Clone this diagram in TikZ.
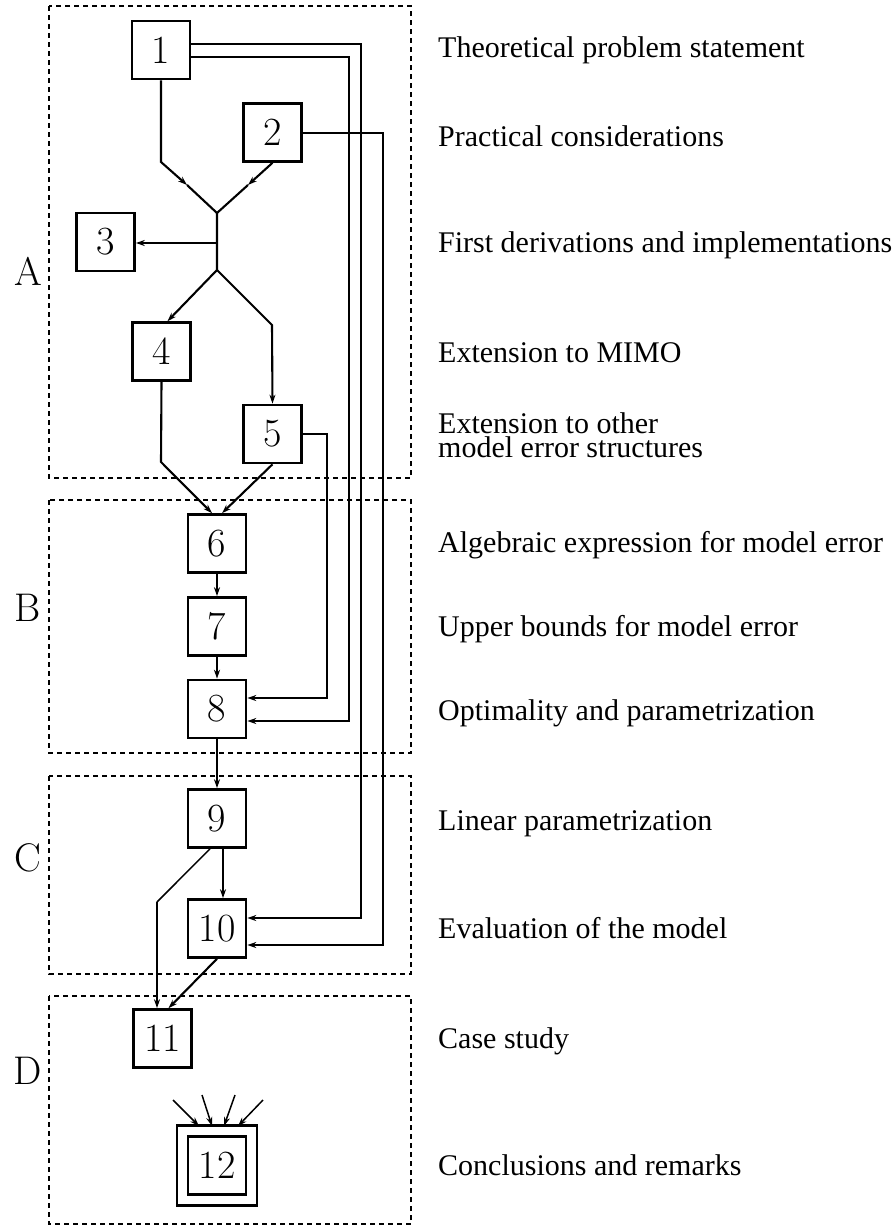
\documentclass[tikz,border=0pt]{standalone}
\usepackage{fontspec}
\newfontfamily\txtfont{Liberation Serif}
\usetikzlibrary{arrows.meta,calc}
\begin{document}
\begin{tikzpicture}[x=1pt,y=-1pt,
  box/.style={draw,line width=2.6pt,minimum size=58pt,inner sep=0pt,font=\fontsize{40}{40}\selectfont},
  region/.style={draw,line width=2.4pt,dash pattern=on 5pt off 4pt},
  conn/.style={line width=2.1pt},
  thickconn/.style={line width=2.8pt},
  thinconn/.style={line width=1.5pt},
  arr/.style={-{Stealth[length=9pt,width=6pt]}},
  lbl/.style={anchor=base west,inner sep=0pt,font=\txtfont\fontsize{30}{24}\selectfont,align=left},
  part/.style={inner sep=0pt,font=\fontsize{40}{40}\selectfont}]
\useasboundingbox (0,0) rectangle (896,1226);
% regions
\draw[region] (49,6) rectangle (411,478);
\draw[region] (49,500) rectangle (411,753);
\draw[region] (49,776) rectangle (411,974);
\draw[region] (49,996) rectangle (411,1224);
\node[part] (pA) at (28,271) {A};
\node[part] (pB) at (28,608) {B};
\node[part] (pC) at (28,858) {C};
\node[part] (pD) at (28,1071) {D};
% nodes
\node[box] (n1) at (161,50) {1};
\node[box] (n2) at (272.5,132.5) {2};
\node[box] (n3) at (105.5,242) {3};
\node[box] (n4) at (161.5,351.5) {4};
\node[box] (n5) at (272.5,434) {5};
\node[box] (n6) at (217,543.5) {6};
\node[box] (n7) at (217,626.5) {7};
\node[box] (n8) at (217,709) {8};
\node[box] (n9) at (217,818.5) {9};
\node[box] (n10) at (217,928.5) {10};
\node[box] (n11) at (162.5,1038.5) {11};
\node[box] (n12) at (217,1165.5) {12};
\node[draw,line width=2.6pt,minimum size=80pt,inner sep=0pt] (n12o) at (n12) {};
% coordinates
\coordinate (b1) at (161,162);
\coordinate (m1) at (187,185);
\coordinate (m2) at (248,185);
\coordinate (merge) at (217,213);
\coordinate (j3) at (217,243);
\coordinate (split) at (217,270);
\coordinate (b5) at (272,325);
\coordinate (b4) at (161,462);
\coordinate (d9) at (157,902);
% A connectors
\draw[conn,arr] (n1.south) -- (b1) -- (m1);
\draw[conn] (m1) -- (merge);
\draw[conn,arr] (n2.south) -- (m2);
\draw[conn] (m2) -- (merge) -- (split);
\draw[conn,arr] (j3) -- (n3.east |- j3);
\draw[conn,arr] (split) -- ([xshift=6pt]n4.north);
\draw[conn,arr] (split) -- (b5) -- (n5.north);
\draw[conn,arr] (n4.south) -- (b4) -- ([xshift=-5pt]n6.north);
\draw[conn,arr] (n5.south) -- ([xshift=5pt]n6.north);
% B, C
\draw[conn,arr] (n6) -- (n7);
\draw[conn,arr] (n7) -- (n8);
\draw[conn,arr] (n8) -- (n9);
\draw[conn,arr] ([xshift=6pt]n9.south) -- ([xshift=6pt]n10.north);
\draw[thinconn] ([xshift=-7pt]n9.south) -- (d9);
\draw[conn,arr] (d9) -- (d9 |- n11.north);
\draw[conn,arr] (n10.south) -- ([xshift=6pt]n11.north);
% long feedback lines
\coordinate (f5a) at (327,434);
\coordinate (f5b) at (327,698);
\coordinate (f1la) at (349,57);
\coordinate (f1lb) at (349,721);
\coordinate (f1ua) at (361,44);
\coordinate (f1ub) at (361,918);
\coordinate (f2a) at (383,133);
\coordinate (f2b) at (383,945);
\draw[conn,arr] (n5.east |- f5a) -- (f5a) -- (f5b) -- (n8.east |- f5b);
\draw[conn,arr] (n1.east |- f1la) -- (f1la) -- (f1lb) -- (n8.east |- f1lb);
\draw[thickconn,arr] (n1.east |- f1ua) -- (f1ua) -- (f1ub) -- (n10.east |- f1ub);
\draw[conn,arr] (n2.east |- f2a) -- (f2a) -- (f2b) -- (n10.east |- f2b);
% arrows into 12
\coordinate (s1) at (173,1100);
\coordinate (s2) at (202,1095);
\coordinate (s3) at (235,1095);
\coordinate (s4) at (263,1100);
\draw[thinconn,arr] (s1) -- (199,1126);
\draw[thinconn,arr] (s2) -- (212,1126);
\draw[thinconn,arr] (s3) -- (224,1126);
\draw[thinconn,arr] (s4) -- (238,1126);
% labels
\node[lbl] (t1) at (438,57) {Theoretical problem statement};
\node[lbl] (t2) at (438,146) {Practical considerations};
\node[lbl] (t3) at (438,252) {First derivations and implementations};
\node[lbl] (t4) at (438,362) {Extension to MIMO};
\node[lbl] (t5) at (438,457) {Extension to other\\model error structures};
\node[lbl] (t6) at (438,552) {Algebraic expression for model error};
\node[lbl] (t7) at (438,636) {Upper bounds for model error};
\node[lbl] (t8) at (438,720) {Optimality and parametrization};
\node[lbl] (t9) at (438,830) {Linear parametrization};
\node[lbl] (t10) at (438,938) {Evaluation of the model};
\node[lbl] (t11) at (438,1048) {Case study};
\node[lbl] (t12) at (438,1175) {Conclusions and remarks};
\end{tikzpicture}
\end{document}
